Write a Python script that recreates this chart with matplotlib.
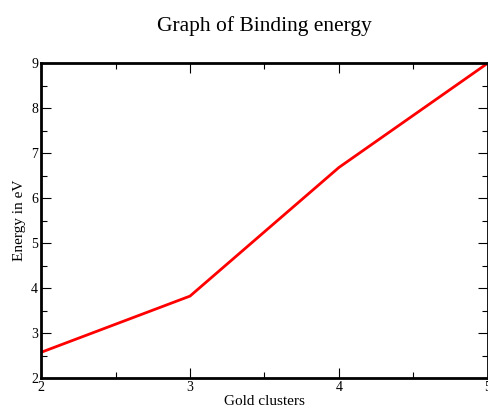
import matplotlib
matplotlib.use("Agg")
import matplotlib.pyplot as plt
from matplotlib.ticker import MultipleLocator

clusters = [2, 3, 4, 5]
energy = [2.57, 3.82, 6.68, 9.0]

plt.rcParams['font.family'] = ['Liberation Serif', 'DejaVu Serif']

fig = plt.figure(figsize=(4.89, 4.08), dpi=100)
ax = fig.add_axes([41 / 489, 30 / 408, 447 / 489, 315 / 408])

ax.plot(clusters, energy, color='#ff0000', linewidth=2.0)

ax.set_xlim(2, 5)
ax.set_ylim(2, 9)
ax.xaxis.set_major_locator(MultipleLocator(1))
ax.xaxis.set_minor_locator(MultipleLocator(0.5))
ax.yaxis.set_major_locator(MultipleLocator(1))
ax.yaxis.set_minor_locator(MultipleLocator(0.5))
ax.tick_params(which='both', direction='in', top=True, right=True,
               labelsize=10, pad=2, width=0.8)
ax.tick_params(which='major', length=7)
ax.tick_params(which='minor', length=4)
for s in ax.spines.values():
    s.set_linewidth(2.0)

ax.set_xlabel('Gold clusters', fontsize=11, labelpad=1)
ax.set_ylabel('Energy in eV', fontsize=11, labelpad=4)
fig.text(0.541, 0.937, 'Graph of Binding energy', fontsize=15.5, ha='center', va='center')

fig.savefig('out.png', dpi=100)
